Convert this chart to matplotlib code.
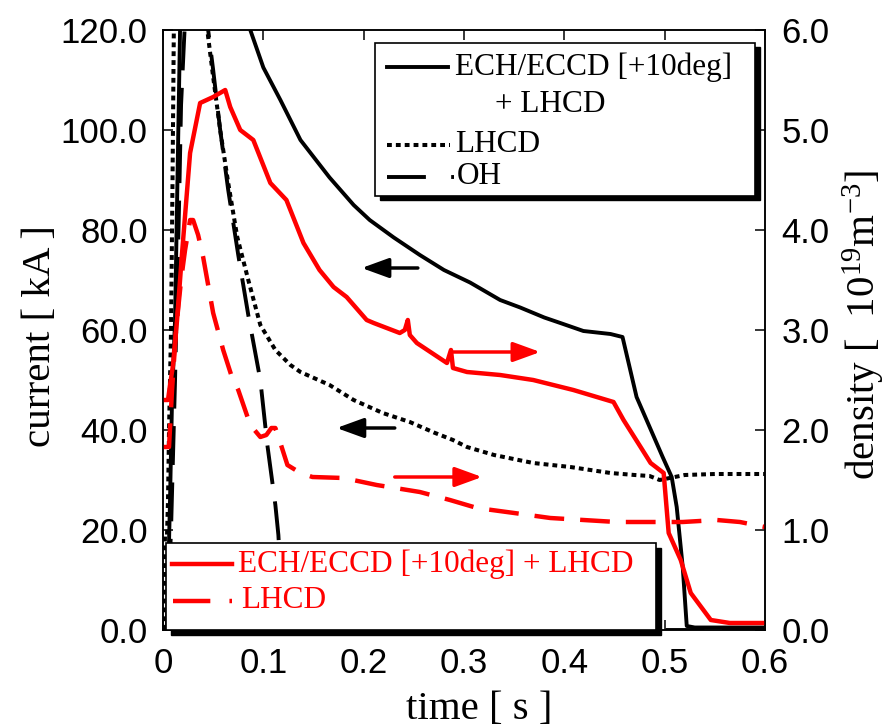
import matplotlib
matplotlib.use('Agg')
import matplotlib.pyplot as plt
from matplotlib.lines import Line2D
from matplotlib.patches import Rectangle

plt.rcParams['font.family'] = 'Liberation Sans'
plt.rcParams['mathtext.fontset'] = 'custom'
plt.rcParams['mathtext.rm'] = 'Liberation Serif'
plt.rcParams['mathtext.default'] = 'rm'
SERIF = 'Liberation Serif'

# plasma current [kA], ECH/ECCD [+10deg] + LHCD
t_ech = [0, 0.004, 0.007, 0.009, 0.012, 0.017, 0.02, 0.03, 0.05, 0.07, 0.087, 0.1,
         0.117, 0.137, 0.166, 0.19, 0.206, 0.23, 0.256, 0.28, 0.306, 0.336, 0.356,
         0.38, 0.396, 0.419, 0.446, 0.458, 0.472, 0.485, 0.498, 0.507, 0.512,
         0.518, 0.522, 0.53, 0.6]
i_ech = [0, 1, 26, 46, 62, 120, 135, 150, 150, 135, 120, 112.5,
         106, 98, 90.5, 85, 82, 78.5, 75, 72, 69.5, 66, 64.5,
         62.5, 61.4, 59.8, 59.2, 58.6, 46.6, 40.6, 34.6, 30.6, 24.6,
         12.6, 0.8, 0.5, 0.5]

# plasma current [kA], LHCD only
t_lh = [0, 0.002, 0.004, 0.005, 0.006, 0.008, 0.0095, 0.011, 0.02, 0.03, 0.04,
        0.045, 0.05, 0.057, 0.065, 0.074, 0.085, 0.097, 0.112, 0.127, 0.137,
        0.166, 0.19, 0.219, 0.246, 0.27, 0.289, 0.303, 0.33, 0.369, 0.406,
        0.446, 0.47, 0.485, 0.495, 0.505, 0.52, 0.55, 0.6]
i_lh = [0, 19, 19, 26, 40, 60, 90, 125, 140, 140, 128,
        118.6, 110.6, 100, 89.4, 78.6, 70, 61, 56, 53, 51.6,
        49, 46, 43.4, 41.6, 39.5, 38, 36.6, 35, 33.4, 32.6,
        31.4, 31, 30.8, 30.0, 30.4, 31, 31.2, 31.2]

# plasma current [kA], OH
t_oh = [0, 0.004, 0.008, 0.012, 0.016, 0.018, 0.021, 0.024, 0.035, 0.045, 0.05,
        0.057, 0.065, 0.075, 0.085, 0.097, 0.104, 0.112, 0.115, 0.118, 0.121,
        0.125, 0.6]
i_oh = [0, 0, 20, 50, 85, 105, 118, 130, 135, 120, 112,
        100, 88, 75, 63, 50, 37, 25, 19, 8, 1,
        0, 0]

# line density [1e19 m^-3], ECH/ECCD [+10deg] + LHCD
t_ne_ech = [0, 0.005, 0.007, 0.01, 0.014, 0.019, 0.027, 0.037, 0.05, 0.062, 0.067,
            0.077, 0.09, 0.107, 0.123, 0.14, 0.156, 0.17, 0.183, 0.203, 0.21,
            0.236, 0.241, 0.244, 0.246, 0.253, 0.283, 0.287, 0.289, 0.303,
            0.336, 0.369, 0.409, 0.449, 0.459, 0.476, 0.486, 0.499, 0.504,
            0.516, 0.526, 0.546, 0.565, 0.6]
ne_ech = [2.3, 2.3, 2.45, 2.65, 3.1, 3.77, 4.77, 5.27, 5.33, 5.4, 5.23,
          5.0, 4.9, 4.47, 4.3, 3.87, 3.6, 3.43, 3.33, 3.1, 3.07,
          2.97, 3.0, 3.1, 2.95, 2.87, 2.67, 2.8, 2.62, 2.58,
          2.55, 2.5, 2.4, 2.28, 2.1, 1.83, 1.67, 1.57, 0.97,
          0.7, 0.37, 0.1, 0.07, 0.07]

# line density [1e19 m^-3], LHCD only
t_ne_lh = [0, 0.006, 0.009, 0.013, 0.018, 0.022, 0.027, 0.03, 0.035, 0.04, 0.045,
           0.05, 0.06, 0.068, 0.075, 0.087, 0.097, 0.103, 0.108, 0.112, 0.117,
           0.124, 0.137, 0.149, 0.18, 0.213, 0.256, 0.286, 0.313, 0.35, 0.386,
           0.452, 0.518, 0.552, 0.575, 0.6]
ne_lh = [1.83, 1.83, 2.4, 3.0, 3.5, 3.8, 4.1, 4.1, 3.95, 3.73, 3.45,
         3.17, 2.8, 2.55, 2.4, 2.05, 1.93, 1.95, 2.02, 2.02, 1.87,
         1.65, 1.57, 1.53, 1.52, 1.45, 1.38, 1.3, 1.22, 1.17, 1.12,
         1.08, 1.08, 1.1, 1.08, 1.03]

x_ticks = [0, 0.1, 0.2, 0.3, 0.4, 0.5, 0.6]
x_ticklabels = ['0', '0.1', '0.2', '0.3', '0.4', '0.5', '0.6']
cur_ticks = [0, 20, 40, 60, 80, 100, 120]
ne_ticks = [0, 1, 2, 3, 4, 5, 6]

# arrows (tail, tip) telling which axis each curve belongs to
cur_arrows = [((0.254, 72.4), (0.198, 72.4)), ((0.231, 40.4), (0.173, 40.4))]
ne_arrows = [((0.288, 2.78), (0.376, 2.78)), ((0.231, 1.53), (0.318, 1.53))]

top_labels = ['ECH/ECCD [+10deg]', '+ LHCD', 'LHCD', 'OH']
bottom_labels = ['ECH/ECCD [+10deg] + LHCD', 'LHCD']

W, H = 887, 728
fig = plt.figure(figsize=(W / 100, H / 100), dpi=100)
ax = fig.add_axes([163 / W, 98 / H, 602 / W, 600 / H])
ax2 = ax.twinx()

OH_DASH = (0, (10, 4.5))
LH_DOT = (0, (1.2, 1.0))
RED_DASH = (0, (6.7, 3.6))

ax.plot(t_ech, i_ech, color='k', lw=2.8)
ax.plot(t_lh, i_lh, color='k', lw=2.9, linestyle=LH_DOT)
ax.plot(t_oh, i_oh, color='k', lw=2.8, linestyle=OH_DASH)
ax2.plot(t_ne_ech, ne_ech, color='#ff0000', lw=3.2)
ax2.plot(t_ne_lh, ne_lh, color='#ff0000', lw=3.2, linestyle=RED_DASH)

for tail, tip in cur_arrows:
    ax.annotate('', xy=tip, xytext=tail,
                arrowprops=dict(arrowstyle='-|>,head_length=1.65,head_width=0.6',
                                color='k', lw=2.5, mutation_scale=10,
                                shrinkA=0, shrinkB=0))
for tail, tip in ne_arrows:
    ax2.annotate('', xy=tip, xytext=tail,
                 arrowprops=dict(arrowstyle='-|>,head_length=1.65,head_width=0.6',
                                 color='#ff0000', lw=2.5, mutation_scale=10,
                                 shrinkA=0, shrinkB=0))

ax.set_xlim(0, 0.6)
ax.set_ylim(0, 120)
ax2.set_ylim(0, 6)
ax.set_xticks(x_ticks)
ax.set_xticklabels(x_ticklabels)
ax.set_yticks(cur_ticks)
ax.set_yticklabels([f'{v:.1f}' for v in cur_ticks])
ax2.set_yticks(ne_ticks)
ax2.set_yticklabels([f'{v:.1f}' for v in ne_ticks])

ax.tick_params(axis='x', direction='in', length=7, width=1.1, top=True,
               labelsize=25, pad=12)
ax.tick_params(axis='y', direction='in', length=7, width=1.1, labelsize=25, pad=11)
ax2.tick_params(axis='y', direction='in', length=7, width=1.1, labelsize=25, pad=12)
for a in (ax, ax2):
    for s in a.spines.values():
        s.set_linewidth(1.1)

fig.text(41 / W, 1 - 336 / H, 'current [ kA ]', rotation=90, ha='center',
         va='center', family=SERIF, fontsize=29.5)
fig.text(864 / W, 1 - 325 / H, r'density [  10$^{19}$m$^{-3}$]', rotation=90,
         ha='center', va='center', family=SERIF, fontsize=29.5)
fig.text(479 / W, 1 - 710 / H, 'time [ s ]', ha='center', va='center',
         family=SERIF, fontsize=29.5)


def px(x, y):
    # pixel position inside the plot frame -> axes fraction
    return (x - 163) / 602, (630 - y) / 600


def frame(x0, y0, x1, y1):
    (ax0, ay1), (ax1, ay0) = px(x0, y0), px(x1, y1)
    shadow = Rectangle((ax0 + 0.0075, ay0 - 0.0075), ax1 - ax0, ay1 - ay0,
                       transform=ax2.transAxes, fc='k', ec='k', lw=1,
                       zorder=10, clip_on=False)
    box = Rectangle((ax0, ay0), ax1 - ax0, ay1 - ay0, transform=ax2.transAxes,
                    fc='w', ec='k', lw=1.2, zorder=11, clip_on=False)
    ax2.add_patch(shadow)
    ax2.add_patch(box)


def handle(x0, x1, y, **kw):
    (a0, ay), (a1, _) = px(x0, y), px(x1, y)
    ax2.add_line(Line2D([a0, a1], [ay, ay], transform=ax2.transAxes,
                        zorder=12, **kw))


def label(x, y, s, color='k'):
    ax_, ay_ = px(x, y)
    ax2.text(ax_, ay_, s, transform=ax2.transAxes, ha='left', va='center',
             family=SERIF, fontsize=22.5, color=color, zorder=12)


# upper legend: current traces
frame(375, 43, 755, 196)
handle(387, 448, 67, color='k', lw=2.8)
label(455, 67, top_labels[0])
label(495, 105, top_labels[1])
handle(387, 450, 145, color='k', lw=2.9, linestyle=LH_DOT)
label(455, 145, top_labels[2])
handle(387, 454, 177, color='k', lw=2.8, linestyle=(0, (10, 6.5, 0.8, 10)))
label(457, 177, top_labels[3])

# lower legend: density traces
frame(166, 543, 656, 630)
handle(172, 232, 564, color='#ff0000', lw=3.2)
label(238, 564, bottom_labels[0], color='#ff0000')
handle(173, 232, 601, color='#ff0000', lw=3.2, linestyle=(0, (8.4, 4.3, 0.7, 10)))
label(241, 601, bottom_labels[1], color='#ff0000')

fig.savefig('out.png', dpi=100)
